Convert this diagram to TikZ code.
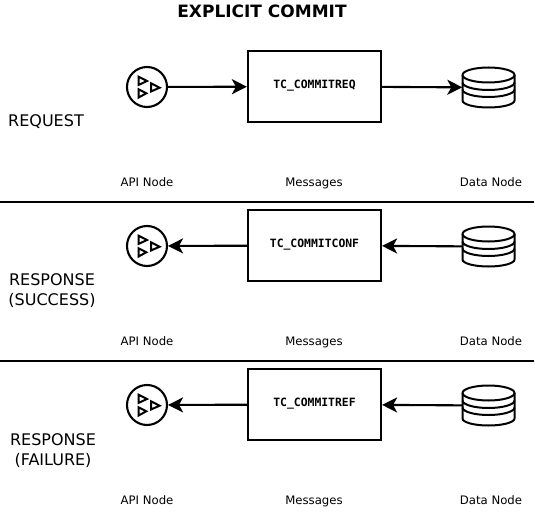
\documentclass[tikz,border=0pt]{standalone}
\usepackage{fontspec}
\setmainfont{DejaVu Sans}
\setmonofont{DejaVu Sans Mono}
\usetikzlibrary{arrows.meta,positioning}
\tikzset{
  apinode/.style={draw,circle,line width=2.1pt,minimum size=40pt,inner sep=0pt},
  dbnode/.style={minimum width=52pt,minimum height=40pt,inner sep=0pt},
  msgbox/.style={draw,line width=2.2pt,minimum width=133pt,minimum height=71pt,inner sep=0pt,font=\ttfamily\bfseries\fontsize{11.4}{13}\selectfont},
  caption/.style={anchor=base,font=\fontsize{11.7}{13}\selectfont},
  rowname/.style={font=\fontsize{16}{20}\selectfont,align=center},
  flow/.style={line width=2.1pt,-{Stealth[length=15pt,width=15pt,inset=4pt]}},
  api icon/.pic={
    \foreach \a/\b/\c/\d in {-8.4/-10.3/0/-6,4/-3.7/12.6/0.7,-8.4/2.3/-0.7/6.3}{
      \draw[line width=2pt,line join=miter] (\a,\b)--(\c,\d)--(\a,\b+8.2)--cycle;}
  },
  db icon/.pic={
    \draw[line width=2pt] (-26,-12.5) arc[start angle=180,end angle=-180,x radius=26,y radius=7.5];
    \draw[line width=2pt] (-26,-12.5)--(-26,13) arc[start angle=180,end angle=0,x radius=26,y radius=7]--(26,-12.5);
    \draw[line width=2pt] (-26,-5) arc[start angle=180,end angle=0,x radius=26,y radius=7.5];
    \draw[line width=2pt] (-26,2) arc[start angle=180,end angle=0,x radius=26,y radius=7.5];
  }
}

\begin{document}
\begin{tikzpicture}[x=1pt,y=-1pt]
\useasboundingbox (0,0) rectangle (535,513);
\node[font=\bfseries\fontsize{17}{19}\selectfont] (title) at (262,11) {EXPLICIT COMMIT};
\draw[line width=1.5pt] (0,202)--(534,202);
\draw[line width=1.5pt] (0,361)--(534,361);
% one row per exchange
\foreach \row/\y/\msg in {req/0/TC\_COMMITREQ,conf/159/TC\_COMMITCONF,fail/318/TC\_COMMITREF}{
  \node[apinode] (api\row) at (147,87+\y) {};
  \pic at (api\row.center) {api icon};
  \node[msgbox] (msg\row) at (314.5,86.5+\y) {\raisebox{5pt}{\msg}};
  \node[dbnode] (db\row) at (488.5,87.5+\y) {};
  \pic at (db\row.center) {db icon};
  \node[caption] (apilabel\row) at (147,186+\y) {API Node};
  \node[caption] (msglabel\row) at (314,186+\y) {Messages};
  \node[caption] (dblabel\row) at (491,186+\y) {Data Node};
}
\node[rowname,anchor=west,inner sep=0pt] (reqname) at (8,122) {REQUEST};
\node[rowname] (confname) at (52,291) {RESPONSE\\(SUCCESS)};
\node[rowname] (failname) at (53,451) {RESPONSE\\(FAILURE)};
\draw[flow] (apireq)--(msgreq);
\draw[flow] (msgreq)--(dbreq);
\draw[flow] (msgconf)--(apiconf);
\draw[flow] (dbconf)--(msgconf);
\draw[flow] (msgfail)--(apifail);
\draw[flow] (dbfail)--(msgfail);
\end{tikzpicture}
\end{document}
